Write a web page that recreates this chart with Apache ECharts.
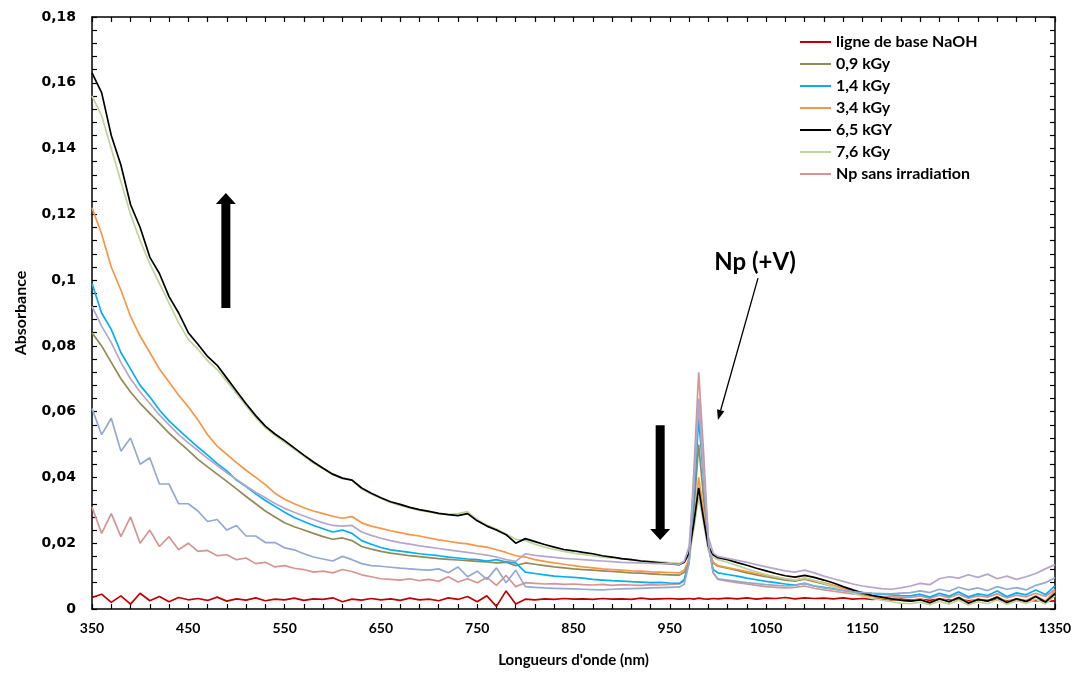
<!DOCTYPE html>
<html><head><meta charset="utf-8">
<script src="https://cdn.jsdelivr.net/npm/echarts@6/dist/echarts.min.js"></script>
<style>html,body{margin:0;padding:0;background:#fff}#c{width:1081px;height:675px}</style>
</head><body><div id="c"></div>
<script>
// Wavelength grid (nm)
const wavelengths = [
 350,360,370,380,390,400,410,420,430,440,450,
 460,470,480,490,500,510,520,530,540,550,
 560,570,580,590,600,610,620,630,640,650,
 660,670,680,690,700,710,720,730,740,750,
 760,770,780,790,800,810,820,830,840,850,
 860,870,880,890,900,910,920,930,940,950,960,
 965,970,975,980,985,990,995,1000,
 1010,1020,1030,1040,1050,1060,1070,1080,1090,1100,
 1110,1120,1130,1140,1150,1160,1170,1180,1190,1200,
 1210,1220,1230,1240,1250,1260,1270,1280,1290,1300,1310,1320,1330,1340,1350
];
const baselineNaOH = [
 0.0035,0.0045,0.0020,0.0040,0.0015,0.0048,0.0025,0.0038,0.0022,0.0035,0.0028,
 0.0032,0.0026,0.0036,0.0024,0.0031,0.0027,0.0034,0.0025,0.0030,0.0028,
 0.0033,0.0026,0.0031,0.0029,0.0034,0.0022,0.0030,0.0027,0.0032,0.0028,
 0.0031,0.0026,0.0033,0.0028,0.0030,0.0025,0.0034,0.0029,0.0038,0.0022,
 0.0040,0.0008,0.0055,0.0015,0.0030,0.0028,0.0031,0.0029,0.0032,0.0030,
 0.0031,0.0029,0.0032,0.0030,0.0031,0.0029,0.0033,0.0030,0.0031,0.0032,0.0030,
 0.0031,0.0032,0.0030,0.0033,0.0031,0.0030,0.0032,0.0031,
 0.0033,0.0031,0.0034,0.0030,0.0033,0.0032,0.0035,0.0031,0.0034,0.0032,
 0.0033,0.0031,0.0034,0.0030,0.0032,0.0029,0.0031,0.0028,0.0030,0.0027,
 0.0029,0.0026,0.0030,0.0027,0.0029,0.0025,0.0028,0.0026,0.0029,0.0025,0.0027,0.0024,0.0026,0.0023,0.0025
];
const dose09 = [
 0.084,0.080,0.075,0.070,0.066,0.0625,0.0595,0.0565,0.0535,0.0508,0.0482,
 0.0455,0.0432,0.0410,0.0388,0.0365,0.0342,0.0320,0.0298,0.0280,0.0262,
 0.0250,0.0240,0.0230,0.0220,0.0212,0.0216,0.0208,0.0190,0.0182,0.0175,
 0.0170,0.0166,0.0162,0.0159,0.0156,0.0153,0.0151,0.0149,0.0147,0.0145,
 0.0143,0.0140,0.0142,0.0132,0.0140,0.0136,0.0132,0.0128,0.0125,0.0122,
 0.0120,0.0118,0.0116,0.0114,0.0112,0.0110,0.0109,0.0107,0.0105,0.0104,0.0103,
 0.0112,0.0150,0.0300,0.0500,0.0340,0.0190,0.0140,0.0130,
 0.0124,0.0117,0.0110,0.0104,0.0098,0.0093,0.0088,0.0085,0.0091,0.0083,
 0.0076,0.0068,0.0060,0.0052,0.0045,0.0038,0.0033,0.0029,0.0026,0.0024,
 0.0029,0.0019,0.0031,0.0022,0.0034,0.0020,0.0029,0.0024,0.0036,0.0021,0.0030,0.0025,0.0039,0.0023,0.0050
];
const dose14 = [
 0.099,0.090,0.085,0.078,0.073,0.068,0.0645,0.0605,0.0572,0.0545,0.0518,
 0.0492,0.0468,0.0442,0.0420,0.0392,0.0372,0.0350,0.0330,0.0312,0.0294,
 0.0278,0.0266,0.0254,0.0244,0.0234,0.0240,0.0230,0.0208,0.0197,0.0187,
 0.0180,0.0176,0.0172,0.0168,0.0165,0.0162,0.0158,0.0155,0.0152,0.0150,
 0.0146,0.0150,0.0143,0.0140,0.0112,0.0108,0.0104,0.0100,0.0098,0.0096,
 0.0094,0.0090,0.0088,0.0086,0.0085,0.0083,0.0082,0.0080,0.0081,0.0079,0.0078,
 0.0090,0.0140,0.0330,0.0580,0.0400,0.0190,0.0120,0.0110,
 0.0105,0.0100,0.0094,0.0089,0.0084,0.0080,0.0076,0.0073,0.0078,0.0070,
 0.0066,0.0061,0.0057,0.0053,0.0050,0.0047,0.0045,0.0043,0.0041,0.0040,
 0.0045,0.0036,0.0048,0.0039,0.0052,0.0037,0.0046,0.0041,0.0055,0.0038,0.0049,0.0043,0.0058,0.0044,0.0070
];
const dose34 = [
 0.122,0.114,0.104,0.097,0.089,0.083,0.078,0.073,0.069,0.065,0.0615,
 0.0575,0.0530,0.0495,0.0470,0.0445,0.0422,0.0400,0.0378,0.0352,0.0334,
 0.0320,0.0308,0.0298,0.0290,0.0282,0.0276,0.0281,0.0262,0.0252,0.0245,
 0.0238,0.0232,0.0226,0.0222,0.0216,0.0210,0.0206,0.0201,0.0198,0.0192,
 0.0188,0.0180,0.0172,0.0162,0.0158,0.0150,0.0145,0.0140,0.0136,0.0132,
 0.0128,0.0125,0.0122,0.0120,0.0118,0.0116,0.0115,0.0113,0.0112,0.0111,0.0110,
 0.0118,0.0150,0.0260,0.0400,0.0300,0.0180,0.0142,0.0132,
 0.0126,0.0120,0.0114,0.0108,0.0102,0.0097,0.0092,0.0088,0.0094,0.0086,
 0.0080,0.0072,0.0064,0.0056,0.0048,0.0040,0.0034,0.0030,0.0027,0.0025,
 0.0030,0.0020,0.0032,0.0024,0.0035,0.0021,0.0030,0.0025,0.0037,0.0022,0.0031,0.0026,0.0040,0.0024,0.0055
];
const dose65 = [
 0.163,0.157,0.144,0.135,0.123,0.116,0.107,0.102,0.095,0.090,0.084,
 0.0805,0.0768,0.0741,0.0702,0.0663,0.0624,0.0588,0.0556,0.0532,0.0512,
 0.0490,0.0468,0.0447,0.0428,0.0410,0.0398,0.0392,0.0368,0.0352,0.0338,
 0.0326,0.0318,0.0309,0.0302,0.0297,0.0291,0.0287,0.0284,0.0290,0.0268,
 0.0252,0.0240,0.0226,0.0200,0.0214,0.0205,0.0196,0.0188,0.0181,0.0177,
 0.0172,0.0168,0.0162,0.0158,0.0153,0.0150,0.0146,0.0143,0.0140,0.0137,0.0135,
 0.0142,0.0170,0.0262,0.0368,0.0275,0.0190,0.0165,0.0156,
 0.0150,0.0141,0.0133,0.0124,0.0116,0.0108,0.0101,0.0097,0.0102,0.0096,
 0.0088,0.0079,0.0068,0.0058,0.0049,0.0041,0.0036,0.0031,0.0027,0.0024,
 0.0028,0.0019,0.0031,0.0022,0.0035,0.0018,0.0029,0.0024,0.0036,0.0020,0.0031,0.0023,0.0038,0.0021,0.0047
];
const dose76 = [
 0.156,0.150,0.140,0.130,0.120,0.112,0.105,0.099,0.093,0.087,0.082,
 0.0790,0.0755,0.0728,0.0692,0.0655,0.0618,0.0582,0.0551,0.0528,0.0507,
 0.0486,0.0465,0.0444,0.0426,0.0408,0.0396,0.0392,0.0365,0.0350,0.0336,
 0.0324,0.0315,0.0307,0.0300,0.0295,0.0290,0.0288,0.0290,0.0296,0.0272,
 0.0255,0.0243,0.0228,0.0212,0.0208,0.0197,0.0188,0.0181,0.0175,0.0170,
 0.0166,0.0162,0.0158,0.0155,0.0152,0.0150,0.0147,0.0145,0.0143,0.0141,0.0139,
 0.0143,0.0165,0.0245,0.0340,0.0262,0.0180,0.0158,0.0150,
 0.0142,0.0132,0.0122,0.0113,0.0105,0.0098,0.0092,0.0088,0.0094,0.0087,
 0.0078,0.0068,0.0058,0.0048,0.0039,0.0032,0.0027,0.0022,0.0018,0.0016,
 0.0021,0.0013,0.0024,0.0015,0.0027,0.0012,0.0022,0.0016,0.0028,0.0014,0.0025,0.0017,0.0030,0.0015,0.0040
];
const npNoIrradiation = [
 0.031,0.023,0.029,0.022,0.028,0.020,0.024,0.019,0.022,0.018,0.020,
 0.0175,0.0178,0.0162,0.0165,0.0150,0.0155,0.0138,0.0142,0.0128,0.0132,
 0.0124,0.0120,0.0112,0.0115,0.0110,0.0120,0.0114,0.0104,0.0098,0.0092,
 0.0090,0.0088,0.0092,0.0086,0.0090,0.0084,0.0098,0.0082,0.0092,0.0080,
 0.0096,0.0072,0.0102,0.0068,0.0080,0.0078,0.0076,0.0077,0.0075,0.0076,
 0.0074,0.0073,0.0075,0.0072,0.0074,0.0073,0.0072,0.0074,0.0073,0.0075,0.0076,
 0.0085,0.0160,0.0420,0.0720,0.0480,0.0210,0.0110,0.0090,
 0.0085,0.0080,0.0076,0.0072,0.0068,0.0066,0.0064,0.0066,0.0070,0.0063,
 0.0058,0.0054,0.0050,0.0046,0.0043,0.0040,0.0038,0.0037,0.0036,0.0035,
 0.0040,0.0032,0.0042,0.0034,0.0045,0.0033,0.0040,0.0036,0.0046,0.0034,0.0042,0.0037,0.0048,0.0038,0.0060
];
// two extra traces present on the plot but absent from the legend
const extraLavender = [
 0.092,0.086,0.081,0.075,0.070,0.066,0.0625,0.059,0.056,0.053,0.0505,
 0.0482,0.0458,0.0436,0.0414,0.0394,0.0374,0.0355,0.0338,0.0321,0.0306,
 0.0294,0.0283,0.0272,0.0262,0.0254,0.0252,0.0254,0.0234,0.0224,0.0215,
 0.0208,0.0202,0.0197,0.0192,0.0188,0.0184,0.0180,0.0176,0.0172,0.0168,
 0.0164,0.0158,0.0150,0.0145,0.0168,0.0163,0.0160,0.0157,0.0154,0.0152,
 0.0150,0.0148,0.0146,0.0144,0.0142,0.0141,0.0140,0.0139,0.0138,0.0137,0.0136,
 0.0145,0.0190,0.0380,0.0630,0.0420,0.0220,0.0170,0.0160,
 0.0154,0.0148,0.0142,0.0135,0.0128,0.0122,0.0116,0.0112,0.0118,0.0110,
 0.0100,0.0092,0.0084,0.0076,0.0070,0.0066,0.0062,0.0060,0.0064,0.0070,
 0.0078,0.0074,0.0092,0.0098,0.0094,0.0104,0.0096,0.0106,0.0092,0.0100,0.0090,0.0098,0.0108,0.0122,0.0135
];
const extraBlueGrey = [
 0.061,0.053,0.058,0.048,0.052,0.044,0.046,0.038,0.038,0.032,0.032,
 0.0298,0.0266,0.0272,0.0240,0.0254,0.0222,0.0222,0.0202,0.0202,0.0186,
 0.0180,0.0168,0.0158,0.0152,0.0146,0.0160,0.0150,0.0138,0.0132,0.0130,
 0.0127,0.0124,0.0122,0.0120,0.0118,0.0122,0.0110,0.0128,0.0098,0.0115,
 0.0090,0.0125,0.0080,0.0118,0.0068,0.0066,0.0064,0.0063,0.0062,0.0061,
 0.0060,0.0059,0.0058,0.0060,0.0061,0.0062,0.0063,0.0064,0.0065,0.0066,0.0067,
 0.0075,0.0140,0.0380,0.0640,0.0420,0.0200,0.0110,0.0092,
 0.0088,0.0084,0.0080,0.0077,0.0074,0.0072,0.0070,0.0072,0.0078,0.0070,
 0.0064,0.0060,0.0056,0.0052,0.0050,0.0048,0.0047,0.0046,0.0048,0.0050,
 0.0055,0.0050,0.0060,0.0054,0.0066,0.0058,0.0064,0.0056,0.0068,0.0060,0.0065,0.0058,0.0072,0.0080,0.0095
];
const legendNames = ['ligne de base NaOH','0,9 kGy','1,4 kGy','3,4 kGy','6,5 kGY','7,6 kGy','Np sans irradiation'];
const yTicks = [0,0.02,0.04,0.06,0.08,0.1,0.12,0.14,0.16,0.18];
// annotation anchors in data units [nm, absorbance]
const upArrowAnchor = [489, 0.0915, 0.1265];
const downArrowAnchor = [940, 0.0559, 0.0210];
const peakLabelAnchor = [1038.5, 0.1055];
const peakArrowFrom = [1041.6, 0.1006];
const peakArrowTo = [1000, 0.0575];

// draw order (later on top)
const traces = [
  {name:'ligne de base NaOH', values: baselineNaOH},
  {name:'Np sans irradiation', values: npNoIrradiation},
  {name:'0,9 kGy', values: dose09},
  {name:'1,4 kGy', values: dose14},
  {name:'3,4 kGy', values: dose34},
  {name:'7,6 kGy', values: dose76},
  {name:'6,5 kGY', values: dose65},
  {name:'extra1', values: extraBlueGrey},
  {name:'extra2', values: extraLavender}
];
const colors = {
  'ligne de base NaOH':'#c00000','0,9 kGy':'#948a54','1,4 kGy':'#00b0f0','3,4 kGy':'#f79646',
  '6,5 kGY':'#000000','7,6 kGy':'#bfd49a','Np sans irradiation':'#d59593',
  'extra1':'#95a8d2','extra2':'#b6a6cc'
};

const uiFont = "Lato, sans-serif";
const tickStyle = {color:'#000', width:1.2};
function xAx(pos, showLabel){
  return {
    type:'value', position:pos, min:350, max:1350, interval:100,
    axisLine:{show:true, onZero:false, lineStyle:{color:'#000', width:1.5}},
    axisTick:{show:true, inside:true, length:5, lineStyle:tickStyle},
    minorTick:{show:true, splitNumber:5, length:5, lineStyle:tickStyle},
    splitLine:{show:false}, minorSplitLine:{show:false},
    axisLabel:{show:showLabel, margin:12, color:'#000', fontFamily:uiFont, fontWeight:'bold', fontSize:14,
      showMinLabel:true, showMaxLabel:true, formatter: v => String(v)},
    name: showLabel ? "Longueurs d'onde (nm)" : '', nameLocation:'middle', nameGap:44,
    nameTextStyle:{color:'#000', fontFamily:uiFont, fontWeight:'bold', fontSize:15}
  };
}
function yAx(pos, showLabel){
  return {
    type:'value', position:pos, min:0, max:0.18, interval:0.02,
    axisLine:{show:true, onZero:false, lineStyle:{color:'#000', width:1.5}},
    axisTick:{show:true, inside:true, length:5, lineStyle:tickStyle},
    minorTick:{show:true, splitNumber:5, length:5, lineStyle:tickStyle},
    splitLine:{show:false}, minorSplitLine:{show:false},
    axisLabel:{show:showLabel, margin:16, color:'#000', fontFamily:"'DejaVu Sans',sans-serif", fontWeight:'bold', fontSize:14,
      showMinLabel:true, showMaxLabel:true,
      formatter: v => { const t = yTicks.find(k => Math.abs(k - v) < 1e-9); const val = t === undefined ? v : t; return String(val).replace('.', ','); }},
    name: showLabel ? 'Absorbance' : '', nameLocation:'middle', nameGap:63,
    nameTextStyle:{color:'#000', fontFamily:uiFont, fontWeight:'bold', fontSize:16}
  };
}

const chart = echarts.init(document.getElementById('c'), null, {renderer:'canvas'});
const option = {
  animation:false,
  backgroundColor:'#fff',
  grid:{left:92, right:26, top:17, bottom:66, containLabel:false, outerBoundsMode:'none'},
  xAxis:[xAx('bottom', true), xAx('top', false)],
  yAxis:[yAx('left', true), yAx('right', false)],
  legend:{
    show:true, data:legendNames, orient:'vertical', left:794, top:29,
    itemWidth:31, itemHeight:16, itemGap:6,
    itemStyle:{opacity:0},
    textStyle:{color:'#000', fontFamily:uiFont, fontWeight:'bold', fontSize:16, lineHeight:16},
    selectedMode:false
  },
  series: traces.map(t => ({
    name:t.name, type:'line', xAxisIndex:0, yAxisIndex:0,
    data: wavelengths.map((w, i) => [w, t.values[i]]),
    symbol:'none', showSymbol:false, silent:true, clip:true,
    lineStyle:{width:1.7, color:colors[t.name]}, itemStyle:{color:colors[t.name]}
  }))
};
chart.setOption(option);

function px(p){ return chart.convertToPixel({seriesIndex:0}, p); }
function blockArrow(a){
  const tail = px([a[0], a[1]]), tip = px([a[0], a[2]]);
  const x = tail[0], dir = Math.sign(tip[1] - tail[1]);
  const headLen = 11, sh = 4.5, hh = 10;
  const hb = tip[1] - dir * headLen;
  return {type:'polygon', silent:true, z:100,
    shape:{points:[[x-sh, tail[1]],[x+sh, tail[1]],[x+sh, hb],[x+hh, hb],[x, tip[1]],[x-hh, hb],[x-sh, hb]]},
    style:{fill:'#000'}};
}
const f = px(peakArrowFrom), t = px(peakArrowTo);
const dx = t[0]-f[0], dy = t[1]-f[1], L = Math.hypot(dx, dy), ux = dx/L, uy = dy/L;
const hl = 10, hw = 3.8;
const base = [t[0]-ux*hl, t[1]-uy*hl];
const lbl = px(peakLabelAnchor);
chart.setOption({graphic:[
  blockArrow(upArrowAnchor),
  blockArrow(downArrowAnchor),
  {type:'line', silent:true, z:100, shape:{x1:f[0], y1:f[1], x2:base[0], y2:base[1]}, style:{stroke:'#000', lineWidth:1.3}},
  {type:'polygon', silent:true, z:100, shape:{points:[[t[0],t[1]],[base[0]-uy*hw, base[1]+ux*hw],[base[0]+uy*hw, base[1]-ux*hw]]}, style:{fill:'#000'}},
  {type:'text', silent:true, z:100, x:lbl[0], y:lbl[1], style:{text:'Np (+V)', fill:'#000', font:"bold 24px Lato, sans-serif", textAlign:'center', textVerticalAlign:'middle'}}
]});
</script>
</body></html>
